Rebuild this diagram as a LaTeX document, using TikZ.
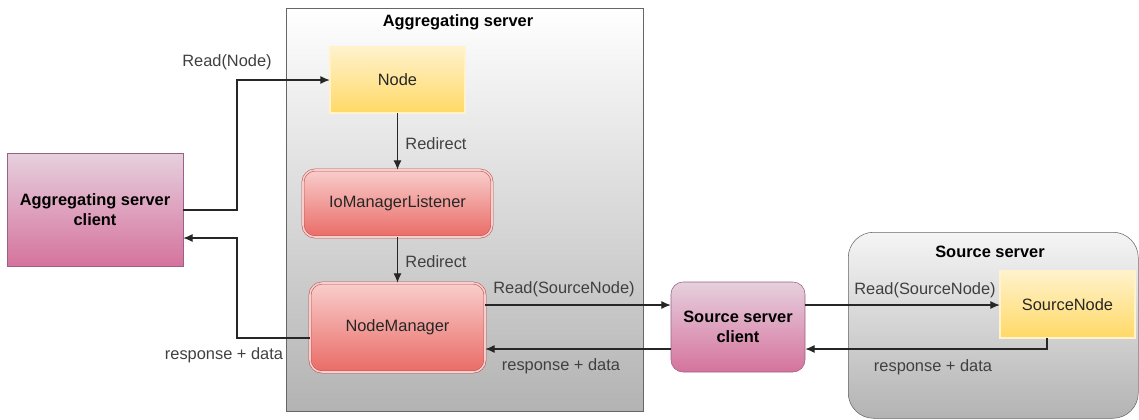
\documentclass[tikz,border=0pt]{standalone}
\usepackage{fontspec}
\setmainfont{Liberation Sans}
\usepackage{tikz}
\usetikzlibrary{shapes,arrows.meta}
\definecolor{ylwtop}{HTML}{FFF2CC}
\definecolor{ylwbot}{HTML}{FFD966}
\definecolor{ylwline}{HTML}{D6B656}
\definecolor{redtop}{HTML}{F8CECC}
\definecolor{redbot}{HTML}{EA6B66}
\definecolor{redline}{HTML}{B85450}
\definecolor{pinktop}{HTML}{E6D0DE}
\definecolor{pinkbot}{HTML}{D5739D}
\definecolor{pinkline}{HTML}{996185}
\definecolor{srvbot}{HTML}{B3B3B3}
\newcommand{\dgfont}{\fontsize{12.3}{14.5}\selectfont}
\tikzstyle{server} = [rectangle, draw=black!60, top color=white, bottom color=srvbot, anchor=north west]
\tikzstyle{block} = [rectangle, draw=ylwline, double=ylwtop, double distance=1.2pt, top color=ylwtop, bottom color=ylwbot, font=\dgfont, text=black!85]
\tikzstyle{handler} = [rectangle, rounded corners=9pt, draw=redline, double=redtop, double distance=1.2pt, top color=redtop, bottom color=redbot, font=\dgfont, text=black!85]
\tikzstyle{client} = [rectangle, draw=pinkline, top color=pinktop, bottom color=pinkbot, font=\dgfont\bfseries, align=center]
\tikzstyle{title} = [font=\dgfont\bfseries]
\tikzstyle{note} = [font=\dgfont, text=black!75]
\tikzstyle{line} = [draw, black!85, line width=0.8pt, -{Latex[length=7pt,width=6pt]}]

\begin{document}
\begin{tikzpicture}[x=0.75pt, y=-0.75pt]
    \useasboundingbox (0,0) rectangle (1139,419);

    \node [server, minimum width=267.75pt, minimum height=302.25pt] (aggsrv) at (286,8) {};
    \node [server, rounded corners=19pt, top color=black!4, minimum width=217.5pt, minimum height=139.5pt] (srcsrv) at (848,232) {};
    \node [title] (aggtitle) at (458,22) {Aggregating server};
    \node [title] (srctitle) at (990,252) {Source server};

    \node [client, minimum width=132pt, minimum height=84.75pt] (aggclient) at (95,209.5) {Aggregating server\\client};
    \node [block, minimum width=101.25pt, minimum height=49.5pt] (readnode) at (397.5,80) {Node};
    \node [handler, minimum width=141.75pt, minimum height=50.25pt] (iolistener) at (397.5,203.5) {IoManagerListener};
    \node [handler, minimum width=131.25pt, minimum height=66.75pt] (nodemgr) at (397.5,327.5) {NodeManager};
    \node [client, rounded corners=9pt, minimum width=100.5pt, minimum height=67.5pt] (srcclient) at (738,327) {Source server\\client};
    \node [block, minimum width=101.25pt, minimum height=50.25pt] (srcnode) at (1067.5,304.5) {SourceNode};

    \coordinate (readlane) at (237,210);
    \coordinate (resplane) at (237,238);
    \coordinate (mgrout) at (237,338);
    \coordinate (fwdlane) at (0,305);
    \coordinate (backlane) at (0,349);
    \coordinate (srcout) at (1047,349);

    \path [line] (aggclient.east |- readlane) -- (readlane) |- (readnode.west);
    \path [line] (nodemgr.west |- mgrout) -- (mgrout) |- (aggclient.east |- resplane);
    \path [line] (readnode) -- (iolistener);
    \path [line] (iolistener) -- (nodemgr);
    \path [line] (nodemgr.east |- fwdlane) -- (srcclient.west |- fwdlane);
    \path [line] (srcclient.west |- backlane) -- (nodemgr.east |- backlane);
    \path [line] (srcclient.east |- fwdlane) -- (srcnode.west |- fwdlane);
    \path [line] (srcnode.south -| srcout) -- (srcout) -- (srcclient.east |- srcout);

    \node [note] (readlbl) at (227,62) {Read(Node)};
    \node [note] (resplbl) at (224,355) {response + data};
    \node [note] (redir1) at (436,144) {Redirect};
    \node [note] (redir2) at (436,262) {Redirect};
    \node [note] (fwdlbl) at (564,289) {Read(SourceNode)};
    \node [note] (backlbl) at (561,366) {response + data};
    \node [note] (srcfwdlbl) at (925,290) {Read(SourceNode)};
    \node [note] (srcbacklbl) at (933,367) {response + data};
\end{tikzpicture}
\end{document}
